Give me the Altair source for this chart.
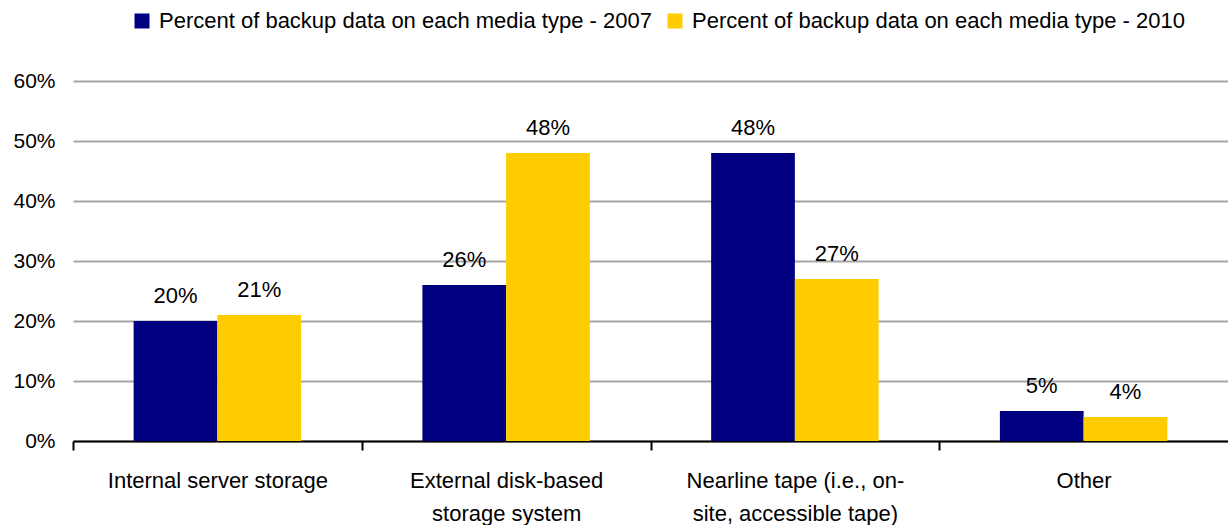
import altair as alt
import pandas as pd

# Media types (line breaks mark where the axis label wraps)
categories = [
    "Internal server storage",
    "External disk-based\nstorage system",
    "Nearline tape (i.e., on-\nsite, accessible tape)",
    "Other",
]
series = [
    "Percent of backup data on each media type - 2007",
    "Percent of backup data on each media type - 2010",
]
values_2007 = [20, 26, 48, 5]
values_2010 = [21, 48, 27, 4]
colors = ["#000080", "#FFCC00"]
y_ticks = [0, 0.1, 0.2, 0.3, 0.4, 0.5, 0.6]

rows = []
for name, vals in zip(series, [values_2007, values_2010]):
    for cat, v in zip(categories, vals):
        rows.append({"category": cat, "series": name, "value": v / 100, "label": f"{v}%"})
df = pd.DataFrame(rows)

FONT = "Liberation Sans"
PLOT_W = 1155
PAD_INNER = 0.42
PAD_OUTER = PAD_INNER / 2
# band step, used to move the category ticks into the gaps between groups
step = PLOT_W / (len(categories) - PAD_INNER + 2 * PAD_OUTER)
gap_half = PAD_INNER * step / 2

base = alt.Chart(df).encode(
    x=alt.X(
        "category:N",
        sort=categories,
        scale=alt.Scale(paddingInner=PAD_INNER, paddingOuter=PAD_OUTER),
        axis=alt.Axis(
            title=None,
            labelAngle=0,
            labelExpr="split(datum.label, '\\n')",
            labelFont=FONT,
            labelFontSize=22,
            labelColor="black",
            labelLineHeight=33,
            labelPadding=20,
            labelBaseline="top",
            labelLimit=500,
            labelOffset=gap_half,
            bandPosition=0,
            tickOffset=-gap_half,
            tickColor="black",
            tickWidth=2,
            tickSize=9,
            domainColor="black",
            domainWidth=2,
            grid=False,
        ),
    ),
    xOffset=alt.XOffset("series:N", sort=series, scale=alt.Scale(paddingInner=0, paddingOuter=0)),
    y=alt.Y(
        "value:Q",
        scale=alt.Scale(domain=[0, 0.6], nice=False),
        axis=alt.Axis(
            title=None,
            format=".0%",
            values=y_ticks,
            labelFont=FONT,
            labelFontSize=21,
            labelColor="black",
            labelPadding=18,
            domain=False,
            ticks=False,
            grid=True,
            gridColor="#a6a6a6",
            gridWidth=2,
        ),
    ),
)

bars = base.mark_bar().encode(
    color=alt.Color(
        "series:N",
        sort=series,
        scale=alt.Scale(domain=series, range=colors),
        legend=alt.Legend(
            title=None,
            orient="none",
            direction="horizontal",
            columns=2,
            legendX=58,
            legendY=-71,
            symbolType="square",
            symbolSize=225,
            symbolStrokeWidth=0,
            symbolOpacity=1,
            labelFont=FONT,
            labelFontSize=22,
            labelColor="black",
            labelOffset=6,
            labelLimit=800,
            columnPadding=12,
            padding=0,
        ),
    )
)

labels = base.mark_text(
    baseline="alphabetic", dy=-18, font=FONT, fontSize=22, color="black"
).encode(text="label:N")

chart = (
    alt.layer(bars, labels)
    .properties(
        width=PLOT_W,
        height=360,
        padding={"left": 73, "top": 81, "right": 0, "bottom": 84},
        autosize=alt.AutoSizeParams(type="none"),
        background="white",
    )
    .configure_view(stroke=None)
)

chart.save("out.html", embed_options={"renderer": "svg", "actions": False})
